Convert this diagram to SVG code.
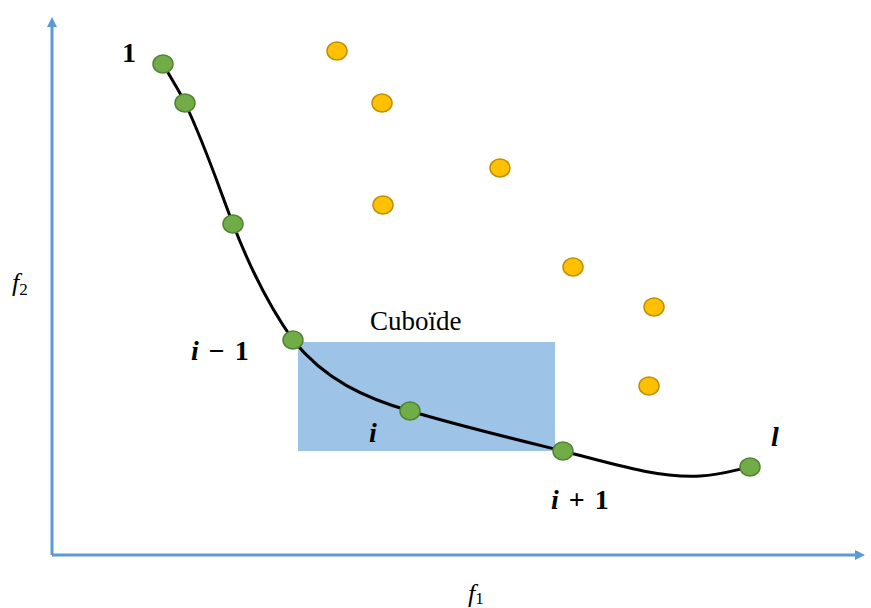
<svg xmlns="http://www.w3.org/2000/svg" width="871" height="608" viewBox="0 0 871 608">
<defs>
<style>
.axis{stroke:#5b9bd5;stroke-width:3;fill:none}
.g{fill:#70ad47;stroke:#548235;stroke-width:1.5}
.o{fill:#ffc000;stroke:#bf9000;stroke-width:1.5}
.m{font-family:"Liberation Serif","DejaVu Serif",serif;font-weight:bold;font-style:italic;font-size:28px;fill:#000}
.n{font-family:"Liberation Serif","DejaVu Serif",serif;font-weight:bold;font-size:28px;fill:#000}
.t{font-family:"Liberation Serif","DejaVu Serif",serif;font-size:27px;fill:#000}
.f{font-family:"Liberation Serif","DejaVu Serif",serif;font-style:italic;font-size:26px;fill:#000}
</style>
<marker id="ah" markerWidth="10" markerHeight="10" refX="5" refY="5" orient="auto" markerUnits="userSpaceOnUse" viewBox="0 0 10 10">
<path d="M0,0 L10,5 L0,10 Z" fill="#5b9bd5"/>
</marker>
</defs>
<rect width="871" height="608" fill="#fff"/>
<g id="cuboid"><rect x="298" y="342" width="257" height="109" fill="#9dc3e6"/></g>
<g id="axes">
<path class="axis" d="M52,555 L52,22" marker-end="url(#ah)"/>
<path class="axis" d="M52,555 L860,555" marker-end="url(#ah)"/>
</g>
<g id="connectors">
<path d="M163,64 C172,80 180,92 185,103 C205,145 218,185 233,224 C250,268 268,305 293,340 C325,380 365,398 410,411 C460,426 510,438 563,451 C620,466 660,478 700,476 C720,475 735,470 750,467" fill="none" stroke="#000" stroke-width="3"/>
</g>
<g id="front">
<ellipse id="p1" class="g" cx="163" cy="64" rx="10" ry="9"/>
<ellipse id="p2" class="g" cx="185" cy="103" rx="10" ry="9"/>
<ellipse id="p3" class="g" cx="233" cy="224" rx="10" ry="9"/>
<ellipse id="p4" class="g" cx="293" cy="340" rx="10" ry="9"/>
<ellipse id="p5" class="g" cx="410" cy="411" rx="10" ry="9"/>
<ellipse id="p6" class="g" cx="563" cy="451" rx="10" ry="9"/>
<ellipse id="p7" class="g" cx="750" cy="467" rx="10" ry="9"/>
</g>
<g id="dominated">
<ellipse id="q1" class="o" cx="337" cy="51" rx="10" ry="9"/>
<ellipse id="q2" class="o" cx="382" cy="103" rx="10" ry="9"/>
<ellipse id="q3" class="o" cx="500" cy="168" rx="10" ry="9"/>
<ellipse id="q4" class="o" cx="383" cy="205" rx="10" ry="9"/>
<ellipse id="q5" class="o" cx="573" cy="267" rx="10" ry="9"/>
<ellipse id="q6" class="o" cx="654" cy="307" rx="10" ry="9"/>
<ellipse id="q7" class="o" cx="649" cy="386" rx="10" ry="9"/>
</g>
<g id="labels">
<text class="n" x="122" y="62">1</text>
<text x="191" y="360"><tspan class="m">i</tspan><tspan class="n" dx="10">−</tspan><tspan class="n" dx="10">1</tspan></text>
<text class="m" x="369" y="442">i</text>
<text x="551" y="509"><tspan class="m">i</tspan><tspan class="n" dx="10">+</tspan><tspan class="n" dx="10">1</tspan></text>
<text class="m" x="771" y="446">l</text>
<text class="t" x="370" y="330">Cuboïde</text>
<text class="f" x="12" y="291">f<tspan font-size="17" dy="4" font-style="normal">2</tspan></text>
<text class="f" x="468" y="602">f<tspan font-size="17" dy="2" font-style="normal">1</tspan></text>
</g>
</svg>
